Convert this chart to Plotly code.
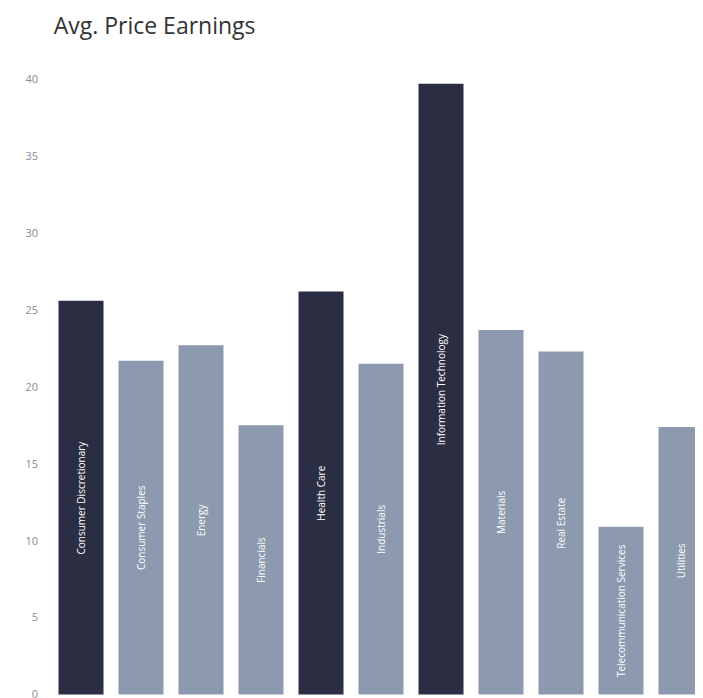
import plotly.graph_objects as go

categories = ["Consumer Discretionary", "Consumer Staples", "Energy", "Financials",
              "Health Care", "Industrials", "Information Technology", "Materials",
              "Real Estate", "Telecommunication Services", "Utilities"]
values = [25.6, 21.7, 22.7, 17.5, 26.2, 21.5, 39.7, 23.7, 22.3, 10.9, 17.4]
highlight = [True, False, False, False, True, False, True, False, False, False, False]
y_ticks = [0, 5, 10, 15, 20, 25, 30, 35, 40]

colors = ["#2b2d42" if h else "#8d99ae" for h in highlight]

fig = go.Figure(go.Bar(
    x=list(range(len(categories))), y=values, text=categories,
    marker=dict(color=colors, line=dict(width=0)), width=0.75,
    textposition="inside", insidetextanchor="middle", textangle=-90,
    textfont=dict(color="white", size=10, family="Open Sans"),
    constraintext="none", hoverinfo="y",
))
fig.update_layout(
    width=703, height=698, plot_bgcolor="white", paper_bgcolor="white",
    margin=dict(l=43, r=0, t=62, b=3, autoexpand=False),
    title=dict(text="Avg. Price Earnings", x=0.004, xanchor="left", xref="paper",
               yref="container", y=1 - 18 / 698, yanchor="middle",
               font=dict(size=23, color="#333333", family="Open Sans"), automargin=False),
    xaxis=dict(range=[-0.5, 10.5], showticklabels=False, showgrid=False, zeroline=False,
               automargin=False),
    yaxis=dict(range=[-0.55, 40.6], tickvals=y_ticks, showgrid=False, zeroline=False,
               automargin=False,
               tickfont=dict(size=11, color="#8a8a9a", family="Open Sans"), ticklabelstandoff=12),
    showlegend=False,
)
fig.write_html("out.html")
